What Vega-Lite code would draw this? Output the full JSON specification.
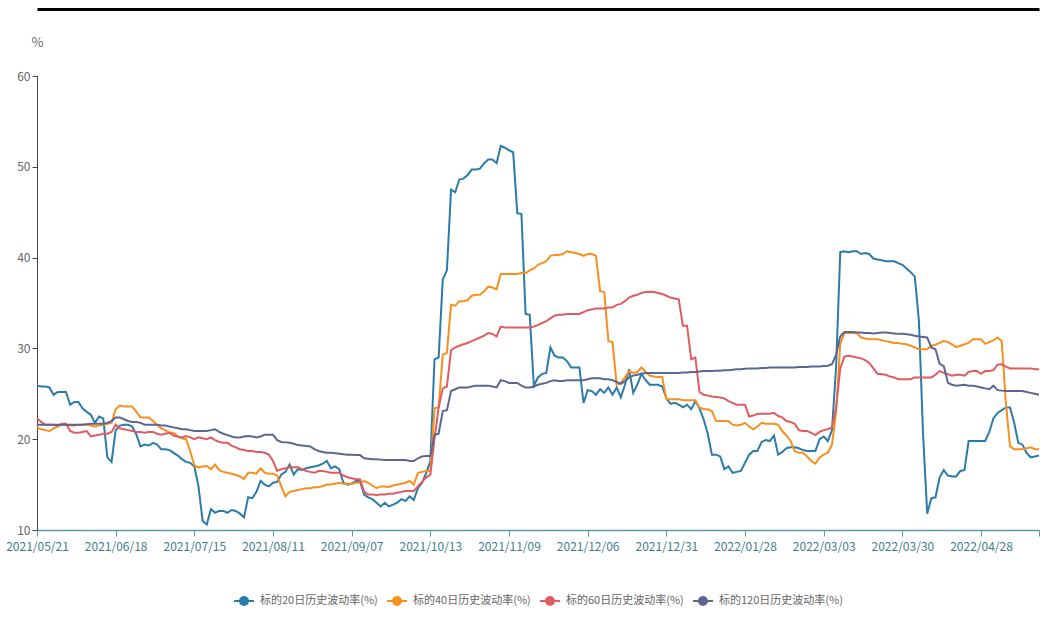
{
  "$schema": "https://vega.github.io/schema/vega-lite/v6.json",
  "width": 1002,
  "height": 454,
  "autosize": {"type": "none"},
  "padding": {"left": 37, "top": 76, "right": 1, "bottom": 110},
  "background": "white",
  "config": {"view": {"stroke": null}},
  "data": {"values": [
{"d":"2021/05/21","a":25.9,"b":21.3,"c":22.3,"e":21.6},
{"d":"2021/05/24","a":25.8,"b":21.1,"c":21.9,"e":21.6},
{"d":"2021/05/25","a":25.8,"b":21.0,"c":21.6,"e":21.6},
{"d":"2021/05/26","a":25.7,"b":20.9,"c":21.6,"e":21.6},
{"d":"2021/05/27","a":24.9,"b":21.2,"c":21.6,"e":21.6},
{"d":"2021/05/28","a":25.2,"b":21.4,"c":21.5,"e":21.6},
{"d":"2021/05/31","a":25.2,"b":21.6,"c":21.7,"e":21.6},
{"d":"2021/06/01","a":25.2,"b":21.6,"c":21.7,"e":21.6},
{"d":"2021/06/02","a":23.8,"b":21.5,"c":20.9,"e":21.6},
{"d":"2021/06/03","a":24.1,"b":21.5,"c":20.7,"e":21.6},
{"d":"2021/06/04","a":24.1,"b":21.6,"c":20.7,"e":21.6},
{"d":"2021/06/07","a":23.4,"b":21.6,"c":20.8,"e":21.6},
{"d":"2021/06/08","a":23.0,"b":21.6,"c":20.9,"e":21.65},
{"d":"2021/06/09","a":22.7,"b":21.5,"c":20.3,"e":21.7},
{"d":"2021/06/10","a":21.8,"b":21.4,"c":20.4,"e":21.7},
{"d":"2021/06/11","a":22.5,"b":21.5,"c":20.5,"e":21.7},
{"d":"2021/06/15","a":22.3,"b":21.6,"c":20.6,"e":21.7},
{"d":"2021/06/16","a":18.0,"b":21.7,"c":20.6,"e":21.8},
{"d":"2021/06/17","a":17.5,"b":21.8,"c":20.8,"e":22.0},
{"d":"2021/06/18","a":21.0,"b":23.3,"c":21.6,"e":22.4},
{"d":"2021/06/21","a":21.5,"b":23.7,"c":21.2,"e":22.4},
{"d":"2021/06/22","a":21.6,"b":23.6,"c":21.1,"e":22.2},
{"d":"2021/06/23","a":21.6,"b":23.6,"c":21.0,"e":22.0},
{"d":"2021/06/24","a":21.4,"b":23.6,"c":20.9,"e":21.9},
{"d":"2021/06/25","a":20.5,"b":23.0,"c":20.8,"e":21.9},
{"d":"2021/06/28","a":19.2,"b":22.4,"c":20.8,"e":21.8},
{"d":"2021/06/29","a":19.4,"b":22.4,"c":20.7,"e":21.6},
{"d":"2021/06/30","a":19.3,"b":22.4,"c":20.8,"e":21.6},
{"d":"2021/07/01","a":19.6,"b":22.0,"c":20.8,"e":21.6},
{"d":"2021/07/02","a":19.4,"b":21.6,"c":20.6,"e":21.6},
{"d":"2021/07/05","a":18.9,"b":21.2,"c":20.5,"e":21.5},
{"d":"2021/07/06","a":18.9,"b":21.0,"c":20.6,"e":21.5},
{"d":"2021/07/07","a":18.8,"b":20.7,"c":20.7,"e":21.4},
{"d":"2021/07/08","a":18.5,"b":20.7,"c":20.4,"e":21.3},
{"d":"2021/07/09","a":18.2,"b":20.3,"c":20.3,"e":21.2},
{"d":"2021/07/12","a":17.8,"b":20.1,"c":20.2,"e":21.1},
{"d":"2021/07/13","a":17.5,"b":20.0,"c":20.35,"e":21.1},
{"d":"2021/07/14","a":17.4,"b":18.7,"c":20.2,"e":21.0},
{"d":"2021/07/15","a":17.0,"b":17.1,"c":20.0,"e":20.9},
{"d":"2021/07/16","a":14.8,"b":16.9,"c":20.2,"e":20.9},
{"d":"2021/07/19","a":11.0,"b":17.0,"c":20.1,"e":20.9},
{"d":"2021/07/20","a":10.6,"b":17.05,"c":20.0,"e":20.9},
{"d":"2021/07/21","a":12.3,"b":16.7,"c":20.2,"e":21.0},
{"d":"2021/07/22","a":11.9,"b":17.2,"c":19.9,"e":21.1},
{"d":"2021/07/23","a":12.1,"b":16.6,"c":19.7,"e":20.8},
{"d":"2021/07/26","a":12.1,"b":16.4,"c":19.6,"e":20.6},
{"d":"2021/07/27","a":11.9,"b":16.3,"c":19.6,"e":20.45},
{"d":"2021/07/28","a":12.2,"b":16.2,"c":19.3,"e":20.3},
{"d":"2021/07/29","a":12.1,"b":16.05,"c":19.1,"e":20.2},
{"d":"2021/07/30","a":11.8,"b":15.9,"c":18.9,"e":20.2},
{"d":"2021/08/02","a":11.4,"b":15.6,"c":18.8,"e":20.3},
{"d":"2021/08/03","a":13.6,"b":16.3,"c":18.7,"e":20.35},
{"d":"2021/08/04","a":13.5,"b":16.3,"c":18.7,"e":20.3},
{"d":"2021/08/05","a":14.2,"b":16.2,"c":18.6,"e":20.2},
{"d":"2021/08/06","a":15.4,"b":16.8,"c":18.6,"e":20.3},
{"d":"2021/08/09","a":15.0,"b":16.3,"c":18.5,"e":20.5},
{"d":"2021/08/10","a":14.8,"b":16.2,"c":18.3,"e":20.5},
{"d":"2021/08/11","a":15.2,"b":16.2,"c":17.6,"e":20.5},
{"d":"2021/08/12","a":15.3,"b":16.0,"c":16.5,"e":19.9},
{"d":"2021/08/13","a":16.1,"b":14.8,"c":16.7,"e":19.7},
{"d":"2021/08/16","a":16.4,"b":13.7,"c":16.8,"e":19.65},
{"d":"2021/08/17","a":17.2,"b":14.2,"c":16.9,"e":19.6},
{"d":"2021/08/18","a":16.1,"b":14.3,"c":16.9,"e":19.5},
{"d":"2021/08/19","a":16.7,"b":14.4,"c":16.9,"e":19.35},
{"d":"2021/08/20","a":16.6,"b":14.5,"c":16.7,"e":19.3},
{"d":"2021/08/23","a":16.8,"b":14.6,"c":16.5,"e":19.25},
{"d":"2021/08/24","a":16.9,"b":14.6,"c":16.4,"e":19.2},
{"d":"2021/08/25","a":17.0,"b":14.7,"c":16.3,"e":18.9},
{"d":"2021/08/26","a":17.1,"b":14.7,"c":16.5,"e":18.7},
{"d":"2021/08/27","a":17.3,"b":14.85,"c":16.5,"e":18.6},
{"d":"2021/08/30","a":17.6,"b":15.0,"c":16.4,"e":18.5},
{"d":"2021/08/31","a":16.8,"b":15.0,"c":16.3,"e":18.5},
{"d":"2021/09/01","a":17.0,"b":15.1,"c":16.3,"e":18.45},
{"d":"2021/09/02","a":16.7,"b":15.2,"c":16.3,"e":18.4},
{"d":"2021/09/03","a":15.2,"b":15.1,"c":16.0,"e":18.35},
{"d":"2021/09/06","a":15.0,"b":15.1,"c":15.8,"e":18.3},
{"d":"2021/09/07","a":15.1,"b":15.1,"c":15.7,"e":18.3},
{"d":"2021/09/08","a":15.4,"b":15.2,"c":15.6,"e":18.25},
{"d":"2021/09/09","a":15.4,"b":15.2,"c":15.6,"e":18.25},
{"d":"2021/09/10","a":13.9,"b":15.4,"c":14.2,"e":17.9},
{"d":"2021/09/13","a":13.6,"b":15.2,"c":13.9,"e":17.85},
{"d":"2021/09/14","a":13.4,"b":14.9,"c":13.9,"e":17.8},
{"d":"2021/09/15","a":13.0,"b":14.6,"c":13.85,"e":17.8},
{"d":"2021/09/16","a":12.6,"b":14.8,"c":13.9,"e":17.75},
{"d":"2021/09/17","a":13.0,"b":14.8,"c":13.9,"e":17.7},
{"d":"2021/09/22","a":12.6,"b":14.75,"c":14.0,"e":17.7},
{"d":"2021/09/23","a":12.8,"b":14.9,"c":14.0,"e":17.7},
{"d":"2021/09/24","a":13.0,"b":15.0,"c":14.1,"e":17.7},
{"d":"2021/09/27","a":13.4,"b":15.1,"c":14.2,"e":17.7},
{"d":"2021/09/28","a":13.2,"b":15.2,"c":14.3,"e":17.7},
{"d":"2021/09/29","a":13.7,"b":15.4,"c":14.3,"e":17.6},
{"d":"2021/09/30","a":13.3,"b":15.0,"c":14.3,"e":17.6},
{"d":"2021/10/08","a":14.6,"b":16.3,"c":14.8,"e":17.9},
{"d":"2021/10/11","a":15.2,"b":16.4,"c":15.3,"e":18.1},
{"d":"2021/10/12","a":16.3,"b":16.5,"c":15.8,"e":18.15},
{"d":"2021/10/13","a":17.6,"b":16.5,"c":16.1,"e":18.15},
{"d":"2021/10/14","a":28.8,"b":23.4,"c":20.0,"e":20.5},
{"d":"2021/10/15","a":29.0,"b":23.5,"c":23.5,"e":20.6},
{"d":"2021/10/18","a":37.6,"b":29.3,"c":25.6,"e":23.1},
{"d":"2021/10/19","a":38.6,"b":29.5,"c":25.8,"e":23.2},
{"d":"2021/10/20","a":47.5,"b":34.8,"c":29.8,"e":25.3},
{"d":"2021/10/21","a":47.2,"b":34.7,"c":30.1,"e":25.5},
{"d":"2021/10/22","a":48.6,"b":35.2,"c":30.3,"e":25.7},
{"d":"2021/10/25","a":48.7,"b":35.2,"c":30.45,"e":25.7},
{"d":"2021/10/26","a":49.1,"b":35.3,"c":30.6,"e":25.7},
{"d":"2021/10/27","a":49.7,"b":35.8,"c":30.8,"e":25.8},
{"d":"2021/10/28","a":49.7,"b":35.9,"c":31.0,"e":25.9},
{"d":"2021/10/29","a":49.8,"b":35.9,"c":31.2,"e":25.9},
{"d":"2021/11/01","a":50.4,"b":36.3,"c":31.4,"e":25.9},
{"d":"2021/11/02","a":50.8,"b":36.8,"c":31.7,"e":25.9},
{"d":"2021/11/03","a":50.8,"b":36.7,"c":31.6,"e":25.8},
{"d":"2021/11/04","a":50.4,"b":36.5,"c":31.3,"e":25.7},
{"d":"2021/11/05","a":52.3,"b":38.2,"c":32.4,"e":26.5},
{"d":"2021/11/08","a":52.1,"b":38.2,"c":32.3,"e":26.4},
{"d":"2021/11/09","a":51.8,"b":38.2,"c":32.3,"e":26.2},
{"d":"2021/11/10","a":51.6,"b":38.2,"c":32.3,"e":26.2},
{"d":"2021/11/11","a":44.9,"b":38.2,"c":32.3,"e":26.2},
{"d":"2021/11/12","a":44.8,"b":38.3,"c":32.3,"e":25.9},
{"d":"2021/11/15","a":33.8,"b":38.3,"c":32.3,"e":25.7},
{"d":"2021/11/16","a":33.7,"b":38.6,"c":32.3,"e":25.7},
{"d":"2021/11/17","a":25.9,"b":38.8,"c":32.4,"e":25.8},
{"d":"2021/11/18","a":26.8,"b":39.2,"c":32.6,"e":26.0},
{"d":"2021/11/19","a":27.2,"b":39.4,"c":32.8,"e":26.1},
{"d":"2021/11/22","a":27.3,"b":39.6,"c":33.0,"e":26.2},
{"d":"2021/11/23","a":30.1,"b":40.2,"c":33.3,"e":26.4},
{"d":"2021/11/24","a":29.2,"b":40.3,"c":33.6,"e":26.5},
{"d":"2021/11/25","a":29.0,"b":40.3,"c":33.7,"e":26.4},
{"d":"2021/11/26","a":29.0,"b":40.4,"c":33.7,"e":26.4},
{"d":"2021/11/29","a":28.6,"b":40.7,"c":33.8,"e":26.5},
{"d":"2021/11/30","a":27.9,"b":40.6,"c":33.8,"e":26.5},
{"d":"2021/12/01","a":27.9,"b":40.5,"c":33.8,"e":26.5},
{"d":"2021/12/02","a":27.9,"b":40.4,"c":33.8,"e":26.5},
{"d":"2021/12/03","a":24.0,"b":40.2,"c":34.0,"e":26.5},
{"d":"2021/12/06","a":25.4,"b":40.4,"c":34.2,"e":26.6},
{"d":"2021/12/07","a":25.3,"b":40.4,"c":34.3,"e":26.7},
{"d":"2021/12/08","a":24.9,"b":40.2,"c":34.4,"e":26.7},
{"d":"2021/12/09","a":25.5,"b":36.3,"c":34.4,"e":26.7},
{"d":"2021/12/10","a":25.1,"b":36.2,"c":34.4,"e":26.6},
{"d":"2021/12/13","a":25.7,"b":30.8,"c":34.5,"e":26.6},
{"d":"2021/12/14","a":24.9,"b":30.7,"c":34.5,"e":26.5},
{"d":"2021/12/15","a":25.7,"b":26.0,"c":34.8,"e":26.3},
{"d":"2021/12/16","a":24.6,"b":26.2,"c":34.9,"e":26.1},
{"d":"2021/12/17","a":26.0,"b":26.8,"c":35.2,"e":26.4},
{"d":"2021/12/20","a":27.7,"b":27.5,"c":35.6,"e":26.8},
{"d":"2021/12/21","a":25.1,"b":27.3,"c":35.8,"e":27.0},
{"d":"2021/12/22","a":26.0,"b":27.4,"c":35.9,"e":27.1},
{"d":"2021/12/23","a":27.2,"b":27.9,"c":36.1,"e":27.2},
{"d":"2021/12/24","a":26.5,"b":27.4,"c":36.2,"e":27.3},
{"d":"2021/12/27","a":26.0,"b":27.0,"c":36.25,"e":27.3},
{"d":"2021/12/28","a":26.0,"b":26.9,"c":36.2,"e":27.3},
{"d":"2021/12/29","a":26.0,"b":26.85,"c":36.1,"e":27.3},
{"d":"2021/12/30","a":25.8,"b":26.85,"c":36.0,"e":27.3},
{"d":"2021/12/31","a":24.5,"b":24.4,"c":35.8,"e":27.3},
{"d":"2022/01/04","a":23.9,"b":24.4,"c":35.6,"e":27.3},
{"d":"2022/01/05","a":24.0,"b":24.4,"c":35.5,"e":27.3},
{"d":"2022/01/06","a":23.8,"b":24.4,"c":35.4,"e":27.3},
{"d":"2022/01/07","a":23.5,"b":24.3,"c":32.5,"e":27.35},
{"d":"2022/01/10","a":23.8,"b":24.3,"c":32.5,"e":27.35},
{"d":"2022/01/11","a":23.3,"b":24.3,"c":28.8,"e":27.4},
{"d":"2022/01/12","a":24.2,"b":24.3,"c":29.0,"e":27.4},
{"d":"2022/01/13","a":23.4,"b":23.5,"c":25.2,"e":27.45},
{"d":"2022/01/14","a":22.2,"b":23.3,"c":24.9,"e":27.5},
{"d":"2022/01/17","a":20.6,"b":23.3,"c":24.8,"e":27.5},
{"d":"2022/01/18","a":18.3,"b":23.1,"c":24.7,"e":27.5},
{"d":"2022/01/19","a":18.3,"b":22.0,"c":24.65,"e":27.55},
{"d":"2022/01/20","a":18.1,"b":22.0,"c":24.6,"e":27.55},
{"d":"2022/01/21","a":16.7,"b":22.0,"c":24.5,"e":27.6},
{"d":"2022/01/24","a":17.0,"b":22.0,"c":24.2,"e":27.6},
{"d":"2022/01/25","a":16.3,"b":21.6,"c":24.0,"e":27.65},
{"d":"2022/01/26","a":16.4,"b":21.5,"c":23.8,"e":27.7},
{"d":"2022/01/27","a":16.5,"b":21.6,"c":23.8,"e":27.7},
{"d":"2022/01/28","a":17.4,"b":21.8,"c":23.8,"e":27.75},
{"d":"2022/02/07","a":18.3,"b":21.4,"c":22.5,"e":27.8},
{"d":"2022/02/08","a":18.7,"b":21.1,"c":22.6,"e":27.8},
{"d":"2022/02/09","a":18.7,"b":21.4,"c":22.8,"e":27.8},
{"d":"2022/02/10","a":19.7,"b":21.8,"c":22.8,"e":27.85},
{"d":"2022/02/11","a":19.9,"b":21.7,"c":22.8,"e":27.85},
{"d":"2022/02/14","a":19.8,"b":21.7,"c":22.8,"e":27.9},
{"d":"2022/02/15","a":20.4,"b":21.7,"c":22.9,"e":27.9},
{"d":"2022/02/16","a":18.3,"b":21.6,"c":22.55,"e":27.9},
{"d":"2022/02/17","a":18.6,"b":20.9,"c":22.4,"e":27.9},
{"d":"2022/02/18","a":19.0,"b":20.4,"c":22.0,"e":27.9},
{"d":"2022/02/21","a":19.1,"b":19.8,"c":21.9,"e":27.9},
{"d":"2022/02/22","a":19.1,"b":18.7,"c":21.7,"e":27.9},
{"d":"2022/02/23","a":19.0,"b":18.5,"c":21.0,"e":27.95},
{"d":"2022/02/24","a":18.8,"b":18.5,"c":20.9,"e":27.95},
{"d":"2022/02/25","a":18.7,"b":18.1,"c":20.9,"e":27.95},
{"d":"2022/02/28","a":18.7,"b":17.6,"c":20.7,"e":28.0},
{"d":"2022/03/01","a":18.7,"b":17.3,"c":20.45,"e":28.0},
{"d":"2022/03/02","a":20.0,"b":18.0,"c":20.8,"e":28.0},
{"d":"2022/03/03","a":20.3,"b":18.3,"c":21.0,"e":28.05},
{"d":"2022/03/04","a":19.8,"b":18.5,"c":21.1,"e":28.1},
{"d":"2022/03/07","a":21.0,"b":19.4,"c":21.3,"e":28.25},
{"d":"2022/03/08","a":28.0,"b":23.0,"c":23.5,"e":29.3},
{"d":"2022/03/09","a":40.6,"b":30.5,"c":27.8,"e":31.3},
{"d":"2022/03/10","a":40.7,"b":31.7,"c":29.1,"e":31.8},
{"d":"2022/03/11","a":40.6,"b":31.7,"c":29.2,"e":31.8},
{"d":"2022/03/14","a":40.7,"b":31.7,"c":29.1,"e":31.8},
{"d":"2022/03/15","a":40.7,"b":31.7,"c":29.0,"e":31.75},
{"d":"2022/03/16","a":40.4,"b":31.2,"c":28.9,"e":31.75},
{"d":"2022/03/17","a":40.5,"b":31.1,"c":28.7,"e":31.7},
{"d":"2022/03/18","a":40.4,"b":31.0,"c":28.4,"e":31.7},
{"d":"2022/03/21","a":39.9,"b":31.0,"c":27.8,"e":31.65},
{"d":"2022/03/22","a":39.8,"b":31.0,"c":27.2,"e":31.7},
{"d":"2022/03/23","a":39.7,"b":30.9,"c":27.15,"e":31.75},
{"d":"2022/03/24","a":39.6,"b":30.8,"c":27.1,"e":31.75},
{"d":"2022/03/25","a":39.6,"b":30.7,"c":26.9,"e":31.7},
{"d":"2022/03/28","a":39.6,"b":30.6,"c":26.8,"e":31.65},
{"d":"2022/03/29","a":39.4,"b":30.6,"c":26.6,"e":31.6},
{"d":"2022/03/30","a":39.2,"b":30.5,"c":26.6,"e":31.6},
{"d":"2022/03/31","a":38.8,"b":30.45,"c":26.6,"e":31.55},
{"d":"2022/04/01","a":38.4,"b":30.3,"c":26.6,"e":31.5},
{"d":"2022/04/06","a":37.9,"b":30.1,"c":26.8,"e":31.4},
{"d":"2022/04/07","a":33.0,"b":29.9,"c":26.8,"e":31.3},
{"d":"2022/04/08","a":20.5,"b":29.9,"c":26.8,"e":31.25},
{"d":"2022/04/11","a":11.8,"b":29.9,"c":26.8,"e":31.2},
{"d":"2022/04/12","a":13.5,"b":30.3,"c":26.8,"e":30.1},
{"d":"2022/04/13","a":13.6,"b":30.4,"c":27.1,"e":29.9},
{"d":"2022/04/14","a":15.8,"b":30.6,"c":27.5,"e":28.3},
{"d":"2022/04/15","a":16.6,"b":30.8,"c":27.3,"e":28.05},
{"d":"2022/04/18","a":16.0,"b":30.7,"c":27.15,"e":26.2},
{"d":"2022/04/19","a":15.9,"b":30.45,"c":27.0,"e":26.0},
{"d":"2022/04/20","a":15.9,"b":30.15,"c":27.1,"e":25.9},
{"d":"2022/04/21","a":16.5,"b":30.3,"c":27.1,"e":25.95},
{"d":"2022/04/22","a":16.6,"b":30.45,"c":27.0,"e":26.0},
{"d":"2022/04/25","a":19.8,"b":30.6,"c":27.4,"e":25.9},
{"d":"2022/04/26","a":19.8,"b":31.0,"c":27.5,"e":25.9},
{"d":"2022/04/27","a":19.8,"b":31.0,"c":27.5,"e":25.8},
{"d":"2022/04/28","a":19.8,"b":31.0,"c":27.2,"e":25.7},
{"d":"2022/04/29","a":19.8,"b":30.5,"c":27.5,"e":25.6},
{"d":"2022/05/05","a":20.8,"b":30.7,"c":27.5,"e":25.5},
{"d":"2022/05/06","a":22.3,"b":30.9,"c":27.6,"e":25.9},
{"d":"2022/05/09","a":22.9,"b":31.2,"c":28.2,"e":25.4},
{"d":"2022/05/10","a":23.2,"b":30.8,"c":28.25,"e":25.35},
{"d":"2022/05/11","a":23.5,"b":24.0,"c":28.0,"e":25.3},
{"d":"2022/05/12","a":23.5,"b":19.2,"c":27.8,"e":25.3},
{"d":"2022/05/13","a":21.8,"b":18.9,"c":27.8,"e":25.3},
{"d":"2022/05/16","a":19.6,"b":18.9,"c":27.8,"e":25.3},
{"d":"2022/05/17","a":19.4,"b":18.9,"c":27.8,"e":25.3},
{"d":"2022/05/18","a":18.5,"b":19.0,"c":27.8,"e":25.2},
{"d":"2022/05/19","a":18.0,"b":19.1,"c":27.8,"e":25.1},
{"d":"2022/05/20","a":18.1,"b":18.9,"c":27.7,"e":25.0},
{"d":"2022/05/23","a":18.2,"b":18.9,"c":27.7,"e":24.9}
  ]},
  "transform": [{"fold": ["a", "b", "c", "e"], "as": ["s", "v"]}],
  "encoding": {
    "y": {
      "field": "v",
      "type": "quantitative",
      "scale": {"domain": [10, 60], "nice": false, "zero": false},
      "axis": {
        "values": [10, 20, 30, 40, 50, 60],
        "grid": false,
        "title": "%",
        "titleAngle": 0,
        "titleX": 0,
        "titleY": -34,
        "titleAlign": "center",
        "titleBaseline": "middle",
        "titleColor": "#666666",
        "titleFont": "Noto Sans CJK SC",
        "titleFontSize": 13,
        "titleFontWeight": "normal",
        "labelColor": "#666666",
        "labelFont": "Noto Sans CJK SC",
        "labelFontSize": 12,
        "labelPadding": 2,
        "domainColor": "#444444",
        "tickColor": "#444444",
        "tickSize": 5
      }
    },
    "color": {
      "field": "s",
      "type": "nominal",
      "scale": {"domain": ["a", "b", "c", "e"], "range": ["#2b7bab", "#f8901f", "#e05c60", "#5b6790"]},
      "legend": {
        "orient": "none",
        "legendX": 196,
        "legendY": 514,
        "direction": "horizontal",
        "title": null,
        "labelExpr": "{'a':'标的20日历史波动率(%)','b':'标的40日历史波动率(%)','c':'标的60日历史波动率(%)','e':'标的120日历史波动率(%)'}[datum.value]",
        "labelFont": "Noto Sans CJK SC",
        "labelFontSize": 11,
        "labelColor": "#666666",
        "labelOffset": 5,
        "columnPadding": 5,
        "symbolType": "M-1,0H1M0.4,0A0.4,0.4,0,1,1,-0.4,0A0.4,0.4,0,1,1,0.4,0Z",
        "symbolSize": 400,
        "symbolStrokeWidth": 2,
        "encode": {"symbols": {"update": {"fill": {"scale": "color", "field": "value"}, "stroke": {"scale": "color", "field": "value"}, "fillOpacity": {"value": 1}}}}
      }
    }
  },
  "layer": [
    {
      "transform": [{"filter": {"field": "s", "oneOf": ["a", "b"]}}],
      "mark": {"type": "line", "strokeWidth": 2, "interpolate": "linear"},
      "encoding": {
        "x": {
          "field": "d",
          "type": "ordinal",
          "scale": {"type": "point", "padding": 0},
          "axis": {
            "values": ["2021/05/21", "2021/06/18", "2021/07/15", "2021/08/11", "2021/09/07", "2021/10/13", "2021/11/09", "2021/12/06", "2021/12/31", "2022/01/28", "2022/03/03", "2022/03/30", "2022/04/28", "2022/05/23"],
            "labelExpr": "datum.value == '2022/05/23' ? '' : datum.value",
            "title": null,
            "grid": false,
            "labelAngle": 0,
            "labelOverlap": false,
            "labelFlush": false,
            "labelColor": "#3f7d8b",
            "labelFont": "Noto Sans CJK SC",
            "labelFontSize": 12,
            "labelPadding": 5,
            "domainColor": "#5a9ba7",
            "domainWidth": 1.5,
            "tickColor": "#5a9ba7",
            "tickSize": 6
          }
        }
      }
    },
    {
      "transform": [{"filter": {"field": "s", "oneOf": ["c", "e"]}}],
      "mark": {"type": "line", "strokeWidth": 2, "interpolate": "linear"},
      "encoding": {
        "x": {
          "field": "d",
          "type": "ordinal",
          "scale": {"type": "point", "padding": 0},
          "axis": {
            "orient": "top",
            "offset": 67,
            "labels": false,
            "ticks": false,
            "title": null,
            "grid": false,
            "domainColor": "#000000",
            "domainWidth": 3
          }
        }
      }
    }
  ],
  "resolve": {"axis": {"x": "independent"}}
}
